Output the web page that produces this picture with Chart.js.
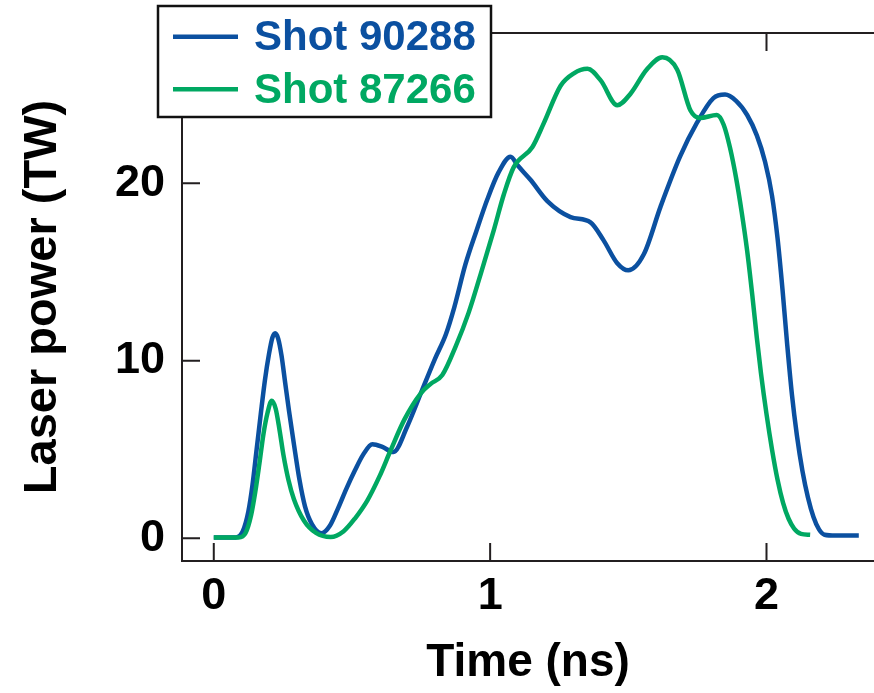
<!DOCTYPE html>
<html><head><meta charset="utf-8">
<script src="https://cdn.jsdelivr.net/npm/chart.js@4.4.1/dist/chart.umd.min.js"></script>
<style>html,body{margin:0;padding:0;background:#fff;}canvas{display:block;}</style>
</head><body>
<canvas id="c" width="874" height="693"></canvas>
<script>
const seriesLabels = ['Shot 90288', 'Shot 87266'];
const timeBlue = [0.00,0.08,0.105,0.125,0.14,0.155,0.17,0.185,0.2,0.212,0.222,0.233,0.245,0.258,0.272,0.29,0.31,0.33,0.355,0.39,0.42,0.45,0.48,0.51,0.54,0.574,0.61,0.65,0.70,0.75,0.80,0.84,0.87,0.91,0.95,0.99,1.03,1.074,1.10,1.146,1.207,1.291,1.363,1.41,1.46,1.50,1.556,1.617,1.687,1.748,1.808,1.85,1.89,1.93,1.965,1.995,2.02,2.04,2.058,2.075,2.092,2.11,2.13,2.15,2.17,2.19,2.21,2.25,2.334];
const powerBlue = [0.05,0.05,0.4,1.5,3.0,5.0,7.0,8.9,10.4,11.3,11.55,11.25,10.3,8.8,7.2,5.3,3.3,1.8,0.8,0.28,0.7,1.7,2.8,3.8,4.7,5.3,5.15,4.86,6.3,8.2,10.1,11.5,13.0,15.4,17.3,19.1,20.6,21.5,21.0,20.2,19.0,18.1,17.8,16.8,15.5,15.1,16.0,18.7,21.5,23.4,24.8,25.0,24.65,23.85,22.7,21.2,19.3,16.9,14.0,10.9,8.1,5.8,3.8,2.3,1.2,0.5,0.2,0.15,0.15];
const timeGreen = [0.00,0.09,0.115,0.135,0.15,0.165,0.18,0.195,0.2095,0.224,0.238,0.252,0.27,0.29,0.326,0.37,0.423,0.47,0.51,0.556,0.60,0.64,0.69,0.749,0.785,0.827,0.875,0.922,0.966,1.013,1.05,1.085,1.153,1.193,1.255,1.303,1.352,1.40,1.46,1.508,1.566,1.623,1.677,1.725,1.760,1.820,1.845,1.868,1.89,1.91,1.93,1.95,1.965,1.98,2.0,2.02,2.04,2.06,2.08,2.10,2.125,2.158];
const powerGreen = [0.05,0.05,0.3,1.3,2.6,4.2,5.9,7.1,7.75,7.3,6.1,4.7,3.3,2.2,1.0,0.3,0.07,0.4,1.1,2.14,3.5,4.96,6.7,8.17,8.7,9.2,10.8,12.7,14.9,17.35,19.4,20.9,22.05,23.35,25.5,26.2,26.45,25.8,24.4,25.05,26.4,27.1,26.4,24.1,23.68,23.85,23.3,22.0,20.3,18.4,16.2,13.5,11.3,9.3,7.0,5.0,3.3,2.0,1.1,0.55,0.25,0.2];
const xTicks = [0, 1, 2];
const yTicks = [0, 10, 20];
const xTitle = 'Time (ns)';
const yTitle = 'Laser power (TW)';

const FONT = '"Liberation Sans", Arial, Helvetica, sans-serif';
const toPoints = (xs, ys) => xs.map((x, i) => ({x, y: ys[i]}));

const framePlugin = {
  id: 'frame',
  afterDraw(chart) {
    const {ctx, chartArea: a, scales: {x, y}} = chart;
    ctx.save();
    ctx.strokeStyle = '#231f20';
    ctx.lineWidth = 2;
    ctx.beginPath();
    ctx.moveTo(a.left, a.top); ctx.lineTo(a.right, a.top);
    ctx.moveTo(a.left, a.top); ctx.lineTo(a.left, a.bottom + 1);
    ctx.moveTo(a.left - 1, a.bottom); ctx.lineTo(a.right, a.bottom);
    xTicks.forEach(v => {
      const p = x.getPixelForValue(v);
      ctx.moveTo(p, a.bottom); ctx.lineTo(p, a.bottom - 18);
      ctx.moveTo(p, a.top); ctx.lineTo(p, a.top + 18);
    });
    yTicks.forEach(v => {
      const p = y.getPixelForValue(v);
      ctx.moveTo(a.left, p); ctx.lineTo(a.left + 18, p);
    });
    ctx.stroke();

    // legend box
    const bx = 158, by = 6, bw = 333, bh = 111;
    ctx.fillStyle = '#fff';
    ctx.fillRect(bx, by, bw, bh);
    ctx.lineWidth = 2.5;
    ctx.strokeStyle = '#111';
    ctx.strokeRect(bx, by, bw, bh);
    const rows = [36.7, 89.3];
    const bases = [49.5, 103];
    chart.data.datasets.forEach((ds, i) => {
      ctx.strokeStyle = ds.borderColor;
      ctx.lineWidth = 4.5;
      ctx.beginPath();
      ctx.moveTo(173, rows[i]); ctx.lineTo(238, rows[i]);
      ctx.stroke();
      ctx.fillStyle = ds.borderColor;
      ctx.font = 'bold 42px ' + FONT;
      ctx.textAlign = 'left';
      ctx.textBaseline = 'alphabetic';
      ctx.fillText(ds.label, 254, bases[i]);
    });
    ctx.restore();
  }
};

new Chart(document.getElementById('c'), {
  type: 'line',
  data: {
    datasets: [
      {label: seriesLabels[0], data: toPoints(timeBlue, powerBlue), borderColor: '#0b50a0', borderWidth: 4.5, cubicInterpolationMode: 'monotone', pointRadius: 0, fill: false, order: 1},
      {label: seriesLabels[1], data: toPoints(timeGreen, powerGreen), borderColor: '#00a862', borderWidth: 4.5, cubicInterpolationMode: 'monotone', pointRadius: 0, fill: false, order: 0}
    ]
  },
  options: {
    responsive: false,
    animation: false,
    layout: {padding: {top: 33, right: 0, bottom: 0, left: 0}},
    plugins: {legend: {display: false}, tooltip: {enabled: false}},
    scales: {
      x: {
        type: 'linear', min: -0.115, max: 2.389,
        afterBuildTicks: s => { s.ticks = xTicks.map(v => ({value: v})); },
        afterFit: s => { s.height = 132; s.paddingLeft = 0; s.paddingRight = 0; },
        grid: {display: false, drawTicks: false},
        border: {display: false},
        ticks: {color: '#000', padding: 9, maxRotation: 0, autoSkip: false, font: {family: FONT, size: 45, weight: 'bold'}, callback: v => String(v)},
        title: {display: true, text: xTitle, color: '#000', font: {family: FONT, size: 46, weight: 'bold'}, padding: {top: 0, bottom: 2}}
      },
      y: {
        type: 'linear', min: -1.28, max: 28.47,
        afterBuildTicks: s => { s.ticks = yTicks.map(v => ({value: v})); },
        afterFit: s => { s.width = 182; s.paddingTop = 0; s.paddingBottom = 0; },
        grid: {display: false, drawTicks: false},
        border: {display: false},
        ticks: {color: '#000', padding: 17, autoSkip: false, font: {family: FONT, size: 45, weight: 'bold'}, callback: v => String(v)},
        title: {display: true, text: yTitle, color: '#000', font: {family: FONT, size: 47, weight: 'bold'}, padding: {top: 15, bottom: 0}}
      }
    }
  },
  plugins: [framePlugin]
});
</script>
</body></html>
